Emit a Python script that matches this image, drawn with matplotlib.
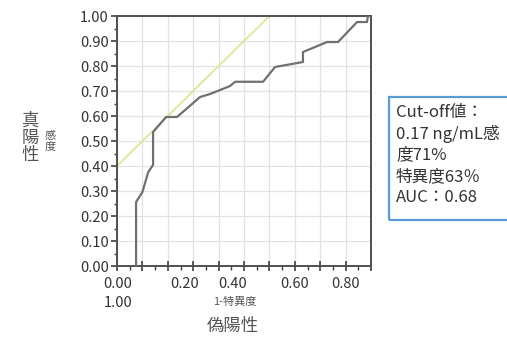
import numpy as np
import matplotlib.pyplot as plt
from matplotlib.patches import Rectangle

# ROC curve (1-specificity, sensitivity)
fpr = [0.075, 0.075, 0.100, 0.123, 0.142, 0.142, 0.193, 0.236, 0.327, 0.366,
       0.445, 0.465, 0.575, 0.622, 0.732, 0.732, 0.827, 0.870, 0.945, 0.984,
       0.988, 1.000]
tpr = [0.000, 0.256, 0.296, 0.376, 0.404, 0.536, 0.596, 0.596, 0.676, 0.688,
       0.720, 0.737, 0.737, 0.796, 0.816, 0.856, 0.896, 0.896, 0.976, 0.976,
       1.000, 1.000]

# tangent line y = x + 0.4
tan_x = [0.0, 0.6]
tan_y = [0.4, 1.0]

y_ticks = [0.0, 0.1, 0.2, 0.3, 0.4, 0.5, 0.6, 0.7, 0.8, 0.9, 1.0]
x_labels = ['0.00', '0.20', '0.40', '0.60', '0.80']
x_label_pos = [0.004, 0.268, 0.457, 0.701, 0.898]

box_lines = ['Cut-off値：', '0.17 ng/mL感', '度71%', '特異度63％', 'AUC：0.68']

plt.rcParams['font.family'] = ['Noto Sans CJK JP', 'DejaVu Sans']

fig = plt.figure(figsize=(5.07, 3.38), dpi=100)
ax = fig.add_axes([0.2308, 0.2130, 0.5010, 0.7396])

ax.plot(tan_x, tan_y, color='#dde58a', lw=1.2, zorder=2)
ax.plot(fpr, tpr, color='#707070', lw=1.6, zorder=3)

ax.set_xlim(0, 1)
ax.set_ylim(0, 1)
ax.set_xticks(np.arange(0, 1.01, 0.1))
ax.set_xticks(np.arange(0.05, 1.0, 0.1), minor=True)
ax.set_xticklabels([])
ax.set_yticks(y_ticks)
ax.set_yticks(np.arange(0.05, 1.0, 0.1), minor=True)
ax.set_yticklabels(['%.2f' % v for v in y_ticks], fontsize=10.5, color='#333333')
ax.grid(True, which='major', color='#e2e2e2', lw=0.9)
ax.set_axisbelow(True)

ax.tick_params(axis='x', which='major', direction='inout', length=7, width=1.2, color='#404040')
ax.tick_params(axis='x', which='minor', direction='out', length=3, width=1.0, color='#404040')
ax.tick_params(axis='y', which='major', direction='out', length=4, width=1.2, color='#404040', pad=2)
ax.tick_params(axis='y', which='minor', direction='out', length=2, width=1.0, color='#404040')

for s in ax.spines.values():
    s.set_color('#505050')
    s.set_linewidth(1.4)

tr = ax.get_xaxis_transform()
for lab, pos in zip(x_labels, x_label_pos):
    ax.text(pos, -0.045, lab, transform=tr, ha='center', va='top', fontsize=10.5, color='#333333')
ax.text(0.004, -0.12, '1.00', transform=tr, ha='center', va='top', fontsize=10.5, color='#333333')
ax.text(0.465, -0.125, '1-特異度', transform=tr, ha='center', va='top', fontsize=8, color='#555555')
ax.text(0.455, -0.205, '偽陽性', transform=tr, ha='center', va='top', fontsize=12.5, color='#555555')

# stacked vertical y labels
fig.text(30 / 507, 1 - 138 / 338, '真\n陽\n性', ha='center', va='center', fontsize=12.5,
         color='#555555', linespacing=0.95)
fig.text(50 / 507, 1 - 141 / 338, '感\n度', ha='center', va='center', fontsize=8,
         color='#555555', linespacing=1.0)

# annotation box
fig.patches.append(Rectangle((389 / 507, 1 - 220 / 338), 125 / 507, 123 / 338,
                             transform=fig.transFigure, fill=False,
                             edgecolor='#5b9bd5', lw=1.6))
for i, line in enumerate(box_lines):
    fig.text(396 / 507, 1 - (112 + 21.5 * i) / 338, line, ha='left', va='center',
             fontsize=12, color='#333333')

fig.savefig('out.png', dpi=100)
